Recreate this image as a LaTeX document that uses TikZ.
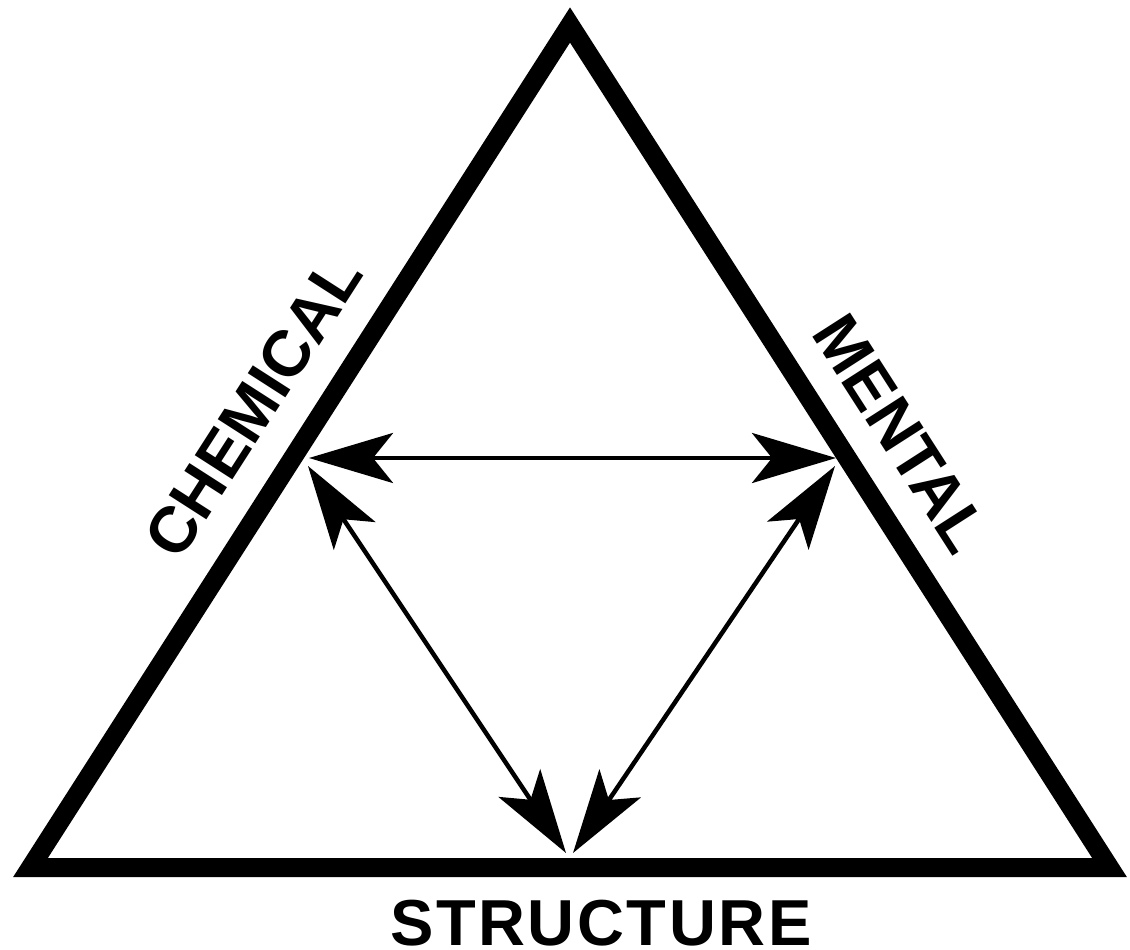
\documentclass[tikz,border=0pt]{standalone}
\usepackage{fontspec}
\setmainfont{Liberation Sans}
\newfontfamily\sidefont{Liberation Sans Bold}
\newfontfamily\basefont[LetterSpace=4]{Liberation Sans Bold}
\usetikzlibrary{arrows.meta}
\begin{document}
\begin{tikzpicture}[x=1pt,y=-1pt,
  side/.style={line width=19pt, line join=miter},
  rel/.style={line width=4.5pt, {Stealth[length=84pt,width=50pt,inset=20pt]}-{Stealth[length=84pt,width=50pt,inset=20pt]}},
  lbl/.style={font=\sidefont\fontsize{65pt}{65pt}\selectfont, inner sep=0pt},
  blbl/.style={font=\basefont\fontsize{65pt}{65pt}\selectfont, inner sep=0pt}]
\fill[white] (0,0) rectangle (1130,950);
\useasboundingbox (0,0) rectangle (1130,950);
\coordinate (A) at (570,25);
\coordinate (BL) at (30.5,867.5);
\coordinate (BR) at (1109.5,867.5);
\draw[side] (A) -- (BL) -- (BR) -- cycle;
\coordinate (L) at (309,458);
\coordinate (R) at (836,458);
\coordinate (Ld) at (308,466);
\coordinate (Rd) at (835,466);
\coordinate (Bl) at (566,853);
\coordinate (Br) at (573,853);
\draw[rel] (L) -- (R);
\draw[rel] (Ld) -- (Bl);
\draw[rel] (Rd) -- (Br);
\node[lbl, anchor=south, rotate=57.3] (chem) at (273,419) {CHEMICAL};
\node[lbl, anchor=south, rotate=-57.3] (ment) at (882,446) {MENTAL};
\node[blbl, anchor=base] (struct) at (601,945) {STRUCTURE};
\end{tikzpicture}
\end{document}
